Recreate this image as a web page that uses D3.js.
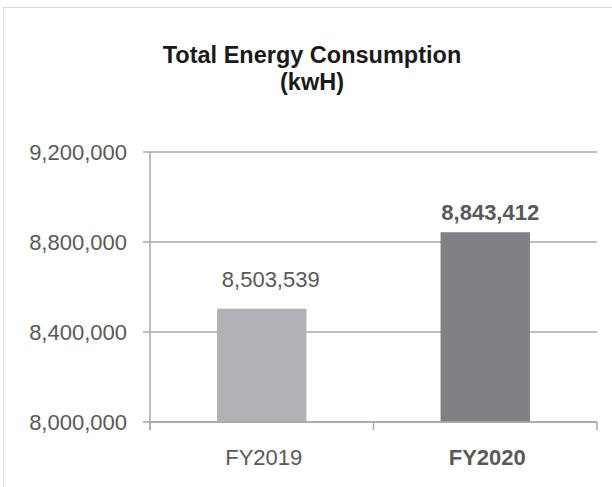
<!DOCTYPE html>
<html>
<head>
<meta charset="utf-8">
<script src="https://cdn.jsdelivr.net/npm/d3@7"></script>
<style>
  html, body { margin: 0; padding: 0; background: #fff; }
  svg { display: block; }
  text { font-family: "Liberation Sans", Arial, Helvetica, sans-serif; }
</style>
</head>
<body>
<div id="svg-container"></div>
<script>
// data
const categories = ["FY2019", "FY2020"];
const values = [8503539, 8843412];
const yTicks = [8000000, 8400000, 8800000, 9200000];
const titleLines = ["Total Energy Consumption", "(kwH)"];

const width = 612;
const height = 487;
const margin = { top: 152, right: 15, bottom: 65, left: 150 };

const svg = d3.select("#svg-container")
  .append("svg")
  .attr("width", width)
  .attr("height", height);

// chart border (cropped on right / bottom)
svg.append("rect")
  .attr("x", 3.5)
  .attr("y", 7.5)
  .attr("width", 700)
  .attr("height", 600)
  .attr("fill", "#fff")
  .attr("stroke", "#d9d9d9")
  .attr("stroke-width", 1);

// scales
const x = d3.scaleBand()
  .domain(categories)
  .range([margin.left, width - margin.right])
  .paddingInner(0.6)
  .paddingOuter(0.3);

const y = d3.scaleLinear()
  .domain([8000000, 9200000])
  .range([height - margin.bottom, margin.top]);

const gridColor = "#a7a8ab";
const labelColor = "#595959";
const barColors = ["#b1b2b5", "#808184"];

// gridlines
svg.append("g")
  .selectAll("line")
  .data(yTicks)
  .join("line")
  .attr("x1", margin.left - 7)
  .attr("x2", width - margin.right)
  .attr("y1", (d) => y(d))
  .attr("y2", (d) => y(d))
  .attr("stroke", gridColor)
  .attr("stroke-width", 1.5);

// y axis line
svg.append("line")
  .attr("x1", margin.left)
  .attr("x2", margin.left)
  .attr("y1", y(9200000))
  .attr("y2", y(8000000) + 8)
  .attr("stroke", gridColor)
  .attr("stroke-width", 1.5);

// y tick labels
svg.append("g")
  .selectAll("text")
  .data(yTicks)
  .join("text")
  .attr("x", margin.left - 23)
  .attr("y", (d) => y(d) + 8)
  .attr("text-anchor", "end")
  .attr("fill", labelColor)
  .attr("font-size", 22)
  .text((d) => d3.format(",")(d));

// bars
svg.append("g")
  .selectAll("rect")
  .data(values)
  .join("rect")
  .attr("x", (d, i) => x(categories[i]))
  .attr("width", x.bandwidth())
  .attr("y", (d) => y(d))
  .attr("height", (d) => y(8000000) - y(d))
  .attr("fill", (d, i) => barColors[i]);

// x axis
const x0 = margin.left;
const x1 = width - margin.right;
svg.append("line")
  .attr("x1", x0)
  .attr("x2", x1)
  .attr("y1", y(8000000))
  .attr("y2", y(8000000))
  .attr("stroke", gridColor)
  .attr("stroke-width", 1.5);

// category boundary ticks
const bounds = [x0, x0 + x.step() * 1.0, x1];
svg.append("g")
  .selectAll("line")
  .data(bounds)
  .join("line")
  .attr("x1", (d) => d)
  .attr("x2", (d) => d)
  .attr("y1", y(8000000))
  .attr("y2", y(8000000) + 8)
  .attr("stroke", gridColor)
  .attr("stroke-width", 1.5);

// category labels
svg.append("g")
  .selectAll("text")
  .data(categories)
  .join("text")
  .attr("x", (d) => x(d) + x.bandwidth() / 2 + 2)
  .attr("y", 465)
  .attr("text-anchor", "middle")
  .attr("fill", labelColor)
  .attr("font-size", 22)
  .attr("font-weight", (d, i) => (i === 1 ? "bold" : "normal"))
  .text((d) => d);

// value labels
const labelDx = [9, 5];
const labelDy = [-22, -12];
svg.append("g")
  .selectAll("text")
  .data(values)
  .join("text")
  .attr("x", (d, i) => x(categories[i]) + x.bandwidth() / 2 + labelDx[i])
  .attr("y", (d, i) => y(d) + labelDy[i])
  .attr("text-anchor", "middle")
  .attr("fill", labelColor)
  .attr("font-size", 22)
  .attr("font-weight", (d, i) => (i === 1 ? "bold" : "normal"))
  .text((d) => d3.format(",")(d));

// title
svg.append("g")
  .selectAll("text")
  .data(titleLines)
  .join("text")
  .attr("x", 312)
  .attr("y", (d, i) => 63 + i * 27)
  .attr("text-anchor", "middle")
  .attr("fill", "#1a1a1a")
  .attr("font-size", 23.5)
  .attr("font-weight", "bold")
  .text((d) => d);
</script>
</body>
</html>
